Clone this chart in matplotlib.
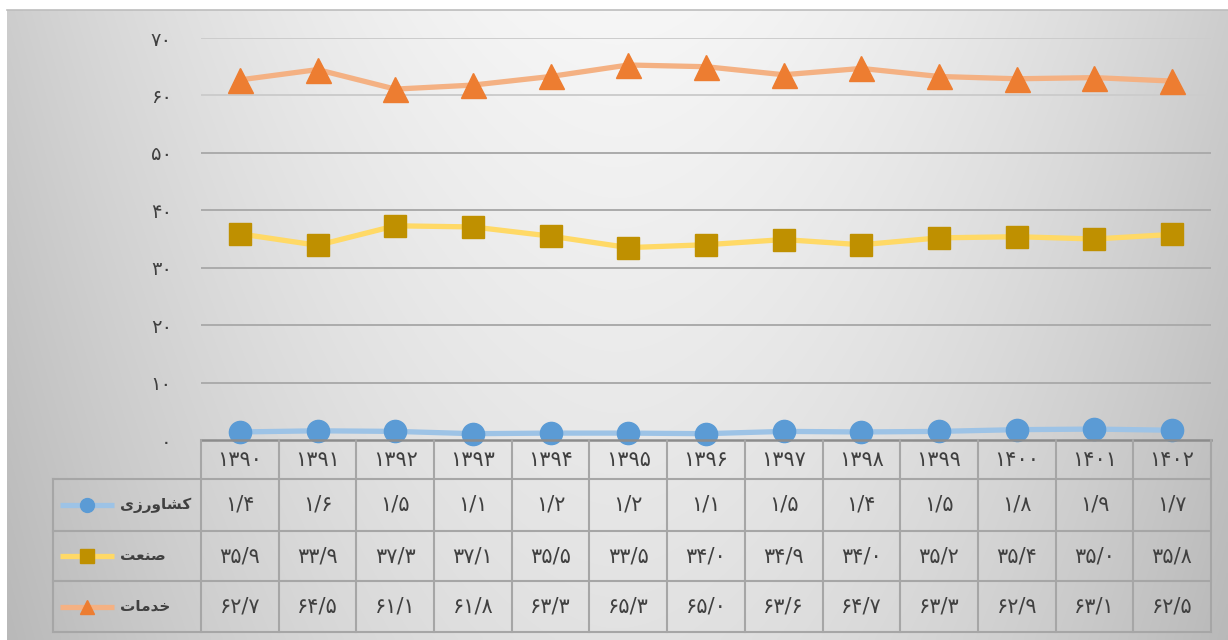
import numpy as np
import matplotlib
matplotlib.use("Agg")
import matplotlib.pyplot as plt
from matplotlib.lines import Line2D

plt.rcParams['font.family'] = ['DejaVu Sans']

years = [1390, 1391, 1392, 1393, 1394, 1395, 1396, 1397, 1398, 1399, 1400, 1401, 1402]
agri = [1.4, 1.6, 1.5, 1.1, 1.2, 1.2, 1.1, 1.5, 1.4, 1.5, 1.8, 1.9, 1.7]
industry = [35.9, 33.9, 37.3, 37.1, 35.5, 33.5, 34.0, 34.9, 34.0, 35.2, 35.4, 35.0, 35.8]
services = [62.7, 64.5, 61.1, 61.8, 63.3, 65.3, 65.0, 63.6, 64.7, 63.3, 62.9, 63.1, 62.5]

# series names already shaped (presentation forms, visual order) since matplotlib has no bidi
names = ["\uFEEF\uFEAF\uFEAD\uFEED\uFE8E\uFEB8\uFEDB",   # کشاورزی
         "\uFE96\uFECC\uFEE8\uFEBB",                       # صنعت
         "\uFE95\uFE8E\uFEE3\uFEAA\uFEA7"]                 # خدمات
line_cols = ['#9DC3E6', '#FFD966', '#F4B183']
mark_cols = ['#5B9BD5', '#BF9000', '#ED7D31']
markers = ['o', 's', '^']

FA = str.maketrans('0123456789.', '۰۱۲۳۴۵۶۷۸۹/')
def fa(s):
    return str(s).translate(FA)

W, H = 1228, 640
fig = plt.figure(figsize=(W / 100, H / 100), dpi=100)
fig.patch.set_facecolor('white')

# gradient background of the chart area
bg = fig.add_axes([7 / W, 0, 1 - 7 / W, 1 - 10 / H])
xx, yy = np.meshgrid(np.linspace(0, 1, 400), np.linspace(0, 1, 200))
u = (xx - 0.5) / 0.5
v = 0.965 - 0.16 * np.abs(u) ** 1.8 - 0.08 * yy
bg.imshow(np.dstack([v, v, v]), aspect='auto', extent=[0, 1, 1, 0], interpolation='bilinear')
bg.set_axis_off()
fig.add_artist(Line2D([7 / W, 1], [1 - 9.5 / H, 1 - 9.5 / H], color='#bdbdbd', lw=1.2))

# plot area
pl, pr, pt, pb = 201, 1211, 38, 440
ax = fig.add_axes([pl / W, 1 - pb / H, (pr - pl) / W, (pb - pt) / H])
ax.patch.set_alpha(0)
x = np.arange(len(years))
ax.set_xlim(-0.5, len(years) - 0.5)
ax.set_ylim(0, 70)
for y in range(10, 80, 10):
    ax.axhline(y, color='#cccccc' if y >= 60 else '#ababab', lw=1.4, zorder=1)
for vals, lc, mc, mk, ms in zip([agri, industry, services], line_cols, mark_cols, markers, [16, 16, 18]):
    ax.plot(x, vals, color=lc, lw=3.8, zorder=3, clip_on=False)
    ax.plot(x, vals, ls='none', marker=mk, ms=ms, color=mc, mec=mc, zorder=4, clip_on=False)
ax.set_xticks([])
ax.set_yticks(range(0, 80, 10))
ax.set_yticklabels([fa(t) for t in range(0, 80, 10)], fontsize=14, color='#404040')
ax.tick_params(axis='y', length=0, pad=21)
for s in ax.spines.values():
    s.set_visible(False)

# data table
tb = fig.add_axes([0, 0, 1, 1])
tb.set_xlim(0, W)
tb.set_ylim(H, 0)
tb.set_axis_off()
tb.patch.set_alpha(0)
cw = (pr - pl) / len(years)
rows = [440, 479, 531, 581, 632]
lab_l = 53
gc = '#a6a6a6'
tb.plot([pl, pr], [rows[0], rows[0]], color='#8c8c8c', lw=1.8)
for r in rows[1:]:
    tb.plot([lab_l, pr], [r, r], color=gc, lw=1.5)
tb.plot([lab_l, lab_l], [rows[1], rows[-1]], color=gc, lw=1.5)
for i in range(len(years) + 1):
    tb.plot([pl + i * cw] * 2, [rows[0], rows[-1]], color=gc, lw=1.5)

for i, yr in enumerate(years):
    tb.text(pl + (i + 0.5) * cw, (rows[0] + rows[1]) / 2, fa(yr), ha='center', va='center',
            fontsize=15, color='#404040')
for k, vals in enumerate([agri, industry, services]):
    yc = (rows[k + 1] + rows[k + 2]) / 2
    for i, val in enumerate(vals):
        tb.text(pl + (i + 0.5) * cw, yc, fa(f"{val:.1f}"), ha='center', va='center',
                fontsize=15, color='#404040')
    tb.plot([60, 114], [yc, yc], color=line_cols[k], lw=3.8, solid_capstyle='butt')
    tb.plot([87], [yc], marker=markers[k], ms=10, color=mark_cols[k], ls='none')
    tb.text(120, yc, names[k], ha='left', va='center', fontsize=11, fontweight='bold', color='#404040')

fig.savefig('out.png', dpi=100)
